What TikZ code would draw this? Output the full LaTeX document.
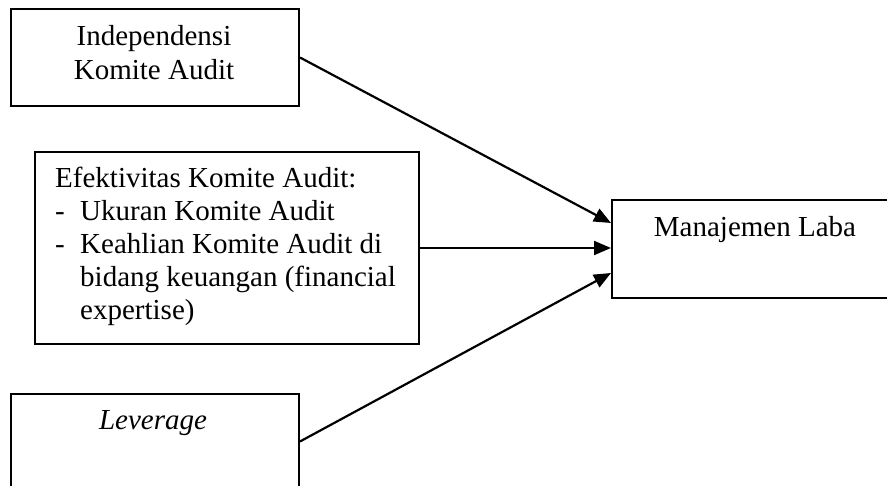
\documentclass[tikz,border=0pt]{standalone}
\usepackage{fontspec}
\setmainfont{Liberation Serif}
\usetikzlibrary{arrows.meta,calc}
\begin{document}
\begin{tikzpicture}[x=1pt,y=-1pt,
  box/.style={draw,line width=2pt,inner sep=0pt,anchor=north west},
  lbl/.style={inner sep=0pt,anchor=base,font=\fontsize{29}{33.5}\selectfont},
  lbw/.style={lbl,anchor=base west},
  arr/.style={line width=2.2pt,-{Triangle[length=17pt,width=14pt]}}]
\useasboundingbox (0,0) rectangle (887,486);
\clip (0,0) rectangle (887,486);
\node[box,minimum width=288pt,minimum height=97pt] (b1) at (10,8) {};
\node[box,minimum width=384pt,minimum height=192pt] (b2) at (34,151) {};
\node[box,minimum width=288pt,minimum height=95pt] (b3) at (10,393) {};
\node[box,minimum width=285pt,minimum height=98pt] (b4) at (611,199) {};
\node[lbl] (t1a) at (154,46) {Independensi};
\node[lbl] (t1b) at (154,80) {Komite Audit};
\node[lbw] (t2a) at (55,188) {Efektivitas Komite Audit:};
\node[lbw] (t2b) at (55,221) {-};
\node[lbw] (t2c) at (80,221) {Ukuran Komite Audit};
\node[lbw] (t2d) at (55,254) {-};
\node[lbw] (t2e) at (80,254) {Keahlian Komite Audit di};
\node[lbw] (t2f) at (80,287) {bidang keuangan (financial};
\node[lbw] (t2g) at (80,320) {expertise)};
\node[lbl] (t3) at (153,430) {\itshape Leverage};
\node[lbl] (t4) at (755,237) {Manajemen Laba};
\draw[arr] (b1.east) -- ($(b4.west)+(0,-26)$);
\draw[arr] (b2.east) -- (b2.east -| b4.west);
\draw[arr] (b3.east) -- ($(b4.west)+(0,24)$);
\end{tikzpicture}
\end{document}
